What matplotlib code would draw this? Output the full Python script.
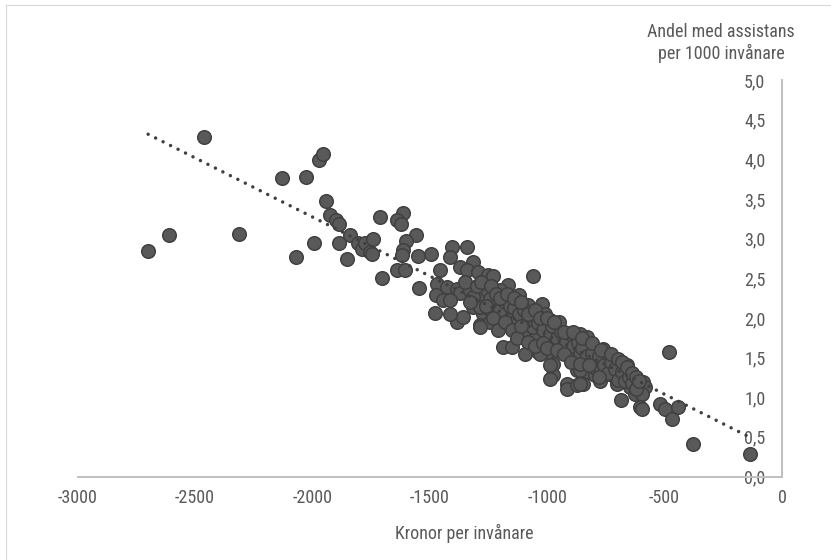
import numpy as np
import matplotlib
matplotlib.use("Agg")
import matplotlib.pyplot as plt
from matplotlib import font_manager
from matplotlib.lines import Line2D

# municipalities: cost difference (kr per inhabitant) vs share with assistance
kronor = [
    -2700, -2613, -2460, -2311, -2130, -2072, -2028, -1994, -1973, -1957,
    -1941, -1926, -1900, -1887, -1886, -1855, -1841, -1805, -1791, -1777,
    -1755, -1748, -1744, -1713, -1705,
    -1613, -1639, -1625, -1559, -1602, -1613, -1620, -1550, -1642, -1606,
    -1545, -1493, -1457, -1471, -1474, -1407, -1415, -1343, -1315, -1372,
    -1343, -1294, -1429, -1386, -1372, -1443, -1415, -1479, -1386, -1358,
    -1329, -1301, -1273, -1258, -1315, -1273, -1287, -1251, -1415,
    -1062, -1230, -1166, -1202, -1119, -1244, -1287, -1251, -1244, -1315,
    -1081, -1024, -1152, -1130, -1095, -1038, -989, -953, -1003, -1102,
    -1052, -1187, -1152, -1095, -1038, -995, -939, -903, -875, -974,
    -917, -875, -832, -825, -974, -974, -882, -839, -797, -875,
    -789, -1287, -1031, -989, -989, -917, -917, -875,
    -480, -832, -761, -754, -839, -832, -847, -797, -775, -797,
    -719, -697, -662, -726, -690, -655, -704, -648, -591, -584,
    -626, -598, -687, -605, -598, -520, -498, -442, -470, -861,
    -861, -861, -381, -136,
    -1200, -1180, -1160, -1140, -1120, -1100, -1090, -1070, -1060, -1040,
    -1020, -1010, -990, -980, -960, -950, -940, -920, -900, -890,
    -870, -860, -850, -830, -810, -800, -780, -770, -760, -740,
    -730, -710, -700, -680, -670, -650, -640, -620, -1230, -1210,
    -1180, -1150, -1130, -1110, -1080, -1050, -1020, -1000, -960, -930,
    -900, -860, -820, -780, -1350, -1330, -1300, -1280, -1260, -1240,
    -1220, -1200, -1170, -1140, -1110, -1080, -1050, -1030, -1000, -970,
    -930, -890, -850, -810, -770, -730, -700, -680, -660, -640,
    -620, -610,
]
andel = [
    2.84, 3.05, 4.28, 3.06, 3.76, 2.77, 3.78, 2.95, 3.99, 4.07,
    3.47, 3.30, 3.24, 3.18, 2.95, 2.74, 3.04, 2.94, 2.87, 2.94,
    2.83, 2.81, 2.99, 3.27, 2.50,
    3.32, 3.23, 3.18, 3.04, 2.97, 2.85, 2.79, 2.78, 2.60, 2.60,
    2.38, 2.81, 2.60, 2.43, 2.29, 2.90, 2.77, 2.90, 2.71, 2.64,
    2.60, 2.58, 2.39, 2.37, 2.31, 2.22, 2.22, 2.06, 1.95, 2.01,
    2.35, 2.31, 2.26, 2.35, 2.14, 2.05, 1.91, 2.54, 2.05,
    2.53, 2.53, 2.41, 2.35, 2.29, 2.24, 2.14, 2.12, 1.95, 2.26,
    2.16, 2.18, 2.05, 1.97, 1.99, 1.97, 1.97, 1.82, 1.84, 1.78,
    1.74, 1.63, 1.63, 1.55, 1.57, 1.57, 1.74, 1.74, 1.78, 1.70,
    1.59, 1.59, 1.72, 1.63, 1.42, 1.28, 1.49, 1.46, 1.46, 1.34,
    1.59, 1.89, 1.55, 1.40, 1.23, 1.17, 1.10, 1.15,
    1.57, 1.76, 1.61, 1.49, 1.44, 1.32, 1.17, 1.44, 1.21, 1.28,
    1.46, 1.44, 1.40, 1.28, 1.25, 1.30, 1.17, 1.13, 1.19, 1.13,
    1.04, 1.04, 0.97, 0.88, 0.85, 0.92, 0.85, 0.88, 0.73, 1.80,
    1.34, 1.17, 0.41, 0.29,
    2.10, 2.20, 2.15, 2.12, 2.05, 2.10, 1.92, 2.00, 1.88, 1.93,
    1.85, 2.05, 1.80, 1.90, 1.75, 1.95, 1.82, 1.70, 1.80, 1.65,
    1.70, 1.55, 1.62, 1.52, 1.55, 1.38, 1.52, 1.35, 1.40, 1.30,
    1.45, 1.35, 1.22, 1.32, 1.20, 1.25, 1.18, 1.10, 2.00, 1.85,
    1.95, 1.85, 1.75, 1.90, 1.70, 1.65, 1.68, 1.62, 1.60, 1.55,
    1.45, 1.42, 1.40, 1.25, 2.45, 2.20, 2.40, 2.45, 2.15, 2.40,
    2.30, 2.25, 2.30, 2.25, 2.20, 2.05, 2.10, 2.00, 2.00, 1.95,
    1.82, 1.82, 1.75, 1.68, 1.60, 1.55, 1.48, 1.45, 1.38, 1.30,
    1.25, 1.20,
]

x_ticks = [-3000, -2500, -2000, -1500, -1000, -500, 0]
y_ticks = [0.0, 0.5, 1.0, 1.5, 2.0, 2.5, 3.0, 3.5, 4.0, 4.5, 5.0]
x_label = "Kronor per invånare"
y_label = "Andel med assistans\nper 1000 invånare"

# the original uses a narrow sans; take the narrowest one that is installed
fonts = font_manager.fontManager.ttflist
names = {f.name for f in fonts}
narrow = [f.name for f in fonts
          if "Narrow" in f.name or "Condensed" in f.name
          or f.stretch in ("condensed", "semi-condensed", "extra-condensed")]
font_size = 13
if "Liberation Sans Narrow" in names:
    family = "Liberation Sans Narrow"
elif "Roboto Condensed" in names:
    family = "Roboto Condensed"
elif narrow:
    family = narrow[0]
else:
    family = "Roboto" if "Roboto" in names else "Liberation Sans"
    font_size = 11.5
plt.rcParams["font.family"] = [family, "DejaVu Sans"]
if family in ("DejaVu Sans", "Open Sans", "Noto Sans"):
    plt.rcParams["font.stretch"] = "condensed"

text_col = "#595959"
axis_col = "#bfbfbf"
W, H = 831, 560

fig = plt.figure(figsize=(W / 100, H / 100), dpi=100, facecolor="white")
ax = fig.add_axes([77.7 / W, 1 - 476.5 / H, (782 - 77.7) / W, (476.5 - 80) / H])

x = np.array(kronor, dtype=float)
y = np.array(andel, dtype=float)

ax.scatter(x, y, s=95, c="#595959", edgecolors="#404040", linewidths=1.1,
           zorder=3)

# linear trend line over the data range
k, m = np.polyfit(x, y, 1)
tx = np.array([x.min(), x.max()])
ax.plot(tx, k * tx + m, color="#404040", lw=2.5,
        linestyle=(0, (0.01, 2.4)), dash_capstyle="round", zorder=4)

ax.set_xlim(-3000, 0)
ax.set_ylim(0, 5)
ax.set_xticks(x_ticks)
ax.set_yticks(y_ticks)
ax.set_xticklabels([str(v) for v in x_ticks])
ax.set_yticklabels([f"{v:.1f}".replace(".", ",") for v in y_ticks])

for side in ["top", "left"]:
    ax.spines[side].set_visible(False)
for side in ["bottom", "right"]:
    ax.spines[side].set_color(axis_col)
    ax.spines[side].set_linewidth(1.4)

ax.yaxis.tick_right()
ax.tick_params(axis="both", length=0, labelsize=font_size, colors=text_col)
ax.tick_params(axis="x", pad=9)
ax.tick_params(axis="y", pad=-12)
for lab in ax.get_yticklabels():
    lab.set_horizontalalignment("right")

fig.text(721 / W, 1 - 43 / H, y_label, ha="center", va="center",
         multialignment="center", fontsize=font_size, color=text_col)
fig.text(464 / W, 1 - 533 / H, x_label, ha="center", va="center",
         fontsize=font_size, color=text_col)

# light chart-area border (left and top visible in the crop)
fig.add_artist(Line2D([5.5 / W, 5.5 / W], [0, 1 - 4.5 / H],
                      transform=fig.transFigure, color="#d9d9d9", lw=0.8))
fig.add_artist(Line2D([5.5 / W, 1], [1 - 4.5 / H, 1 - 4.5 / H],
                      transform=fig.transFigure, color="#d9d9d9", lw=0.8))

fig.savefig("out.png", dpi=100, facecolor="white")
